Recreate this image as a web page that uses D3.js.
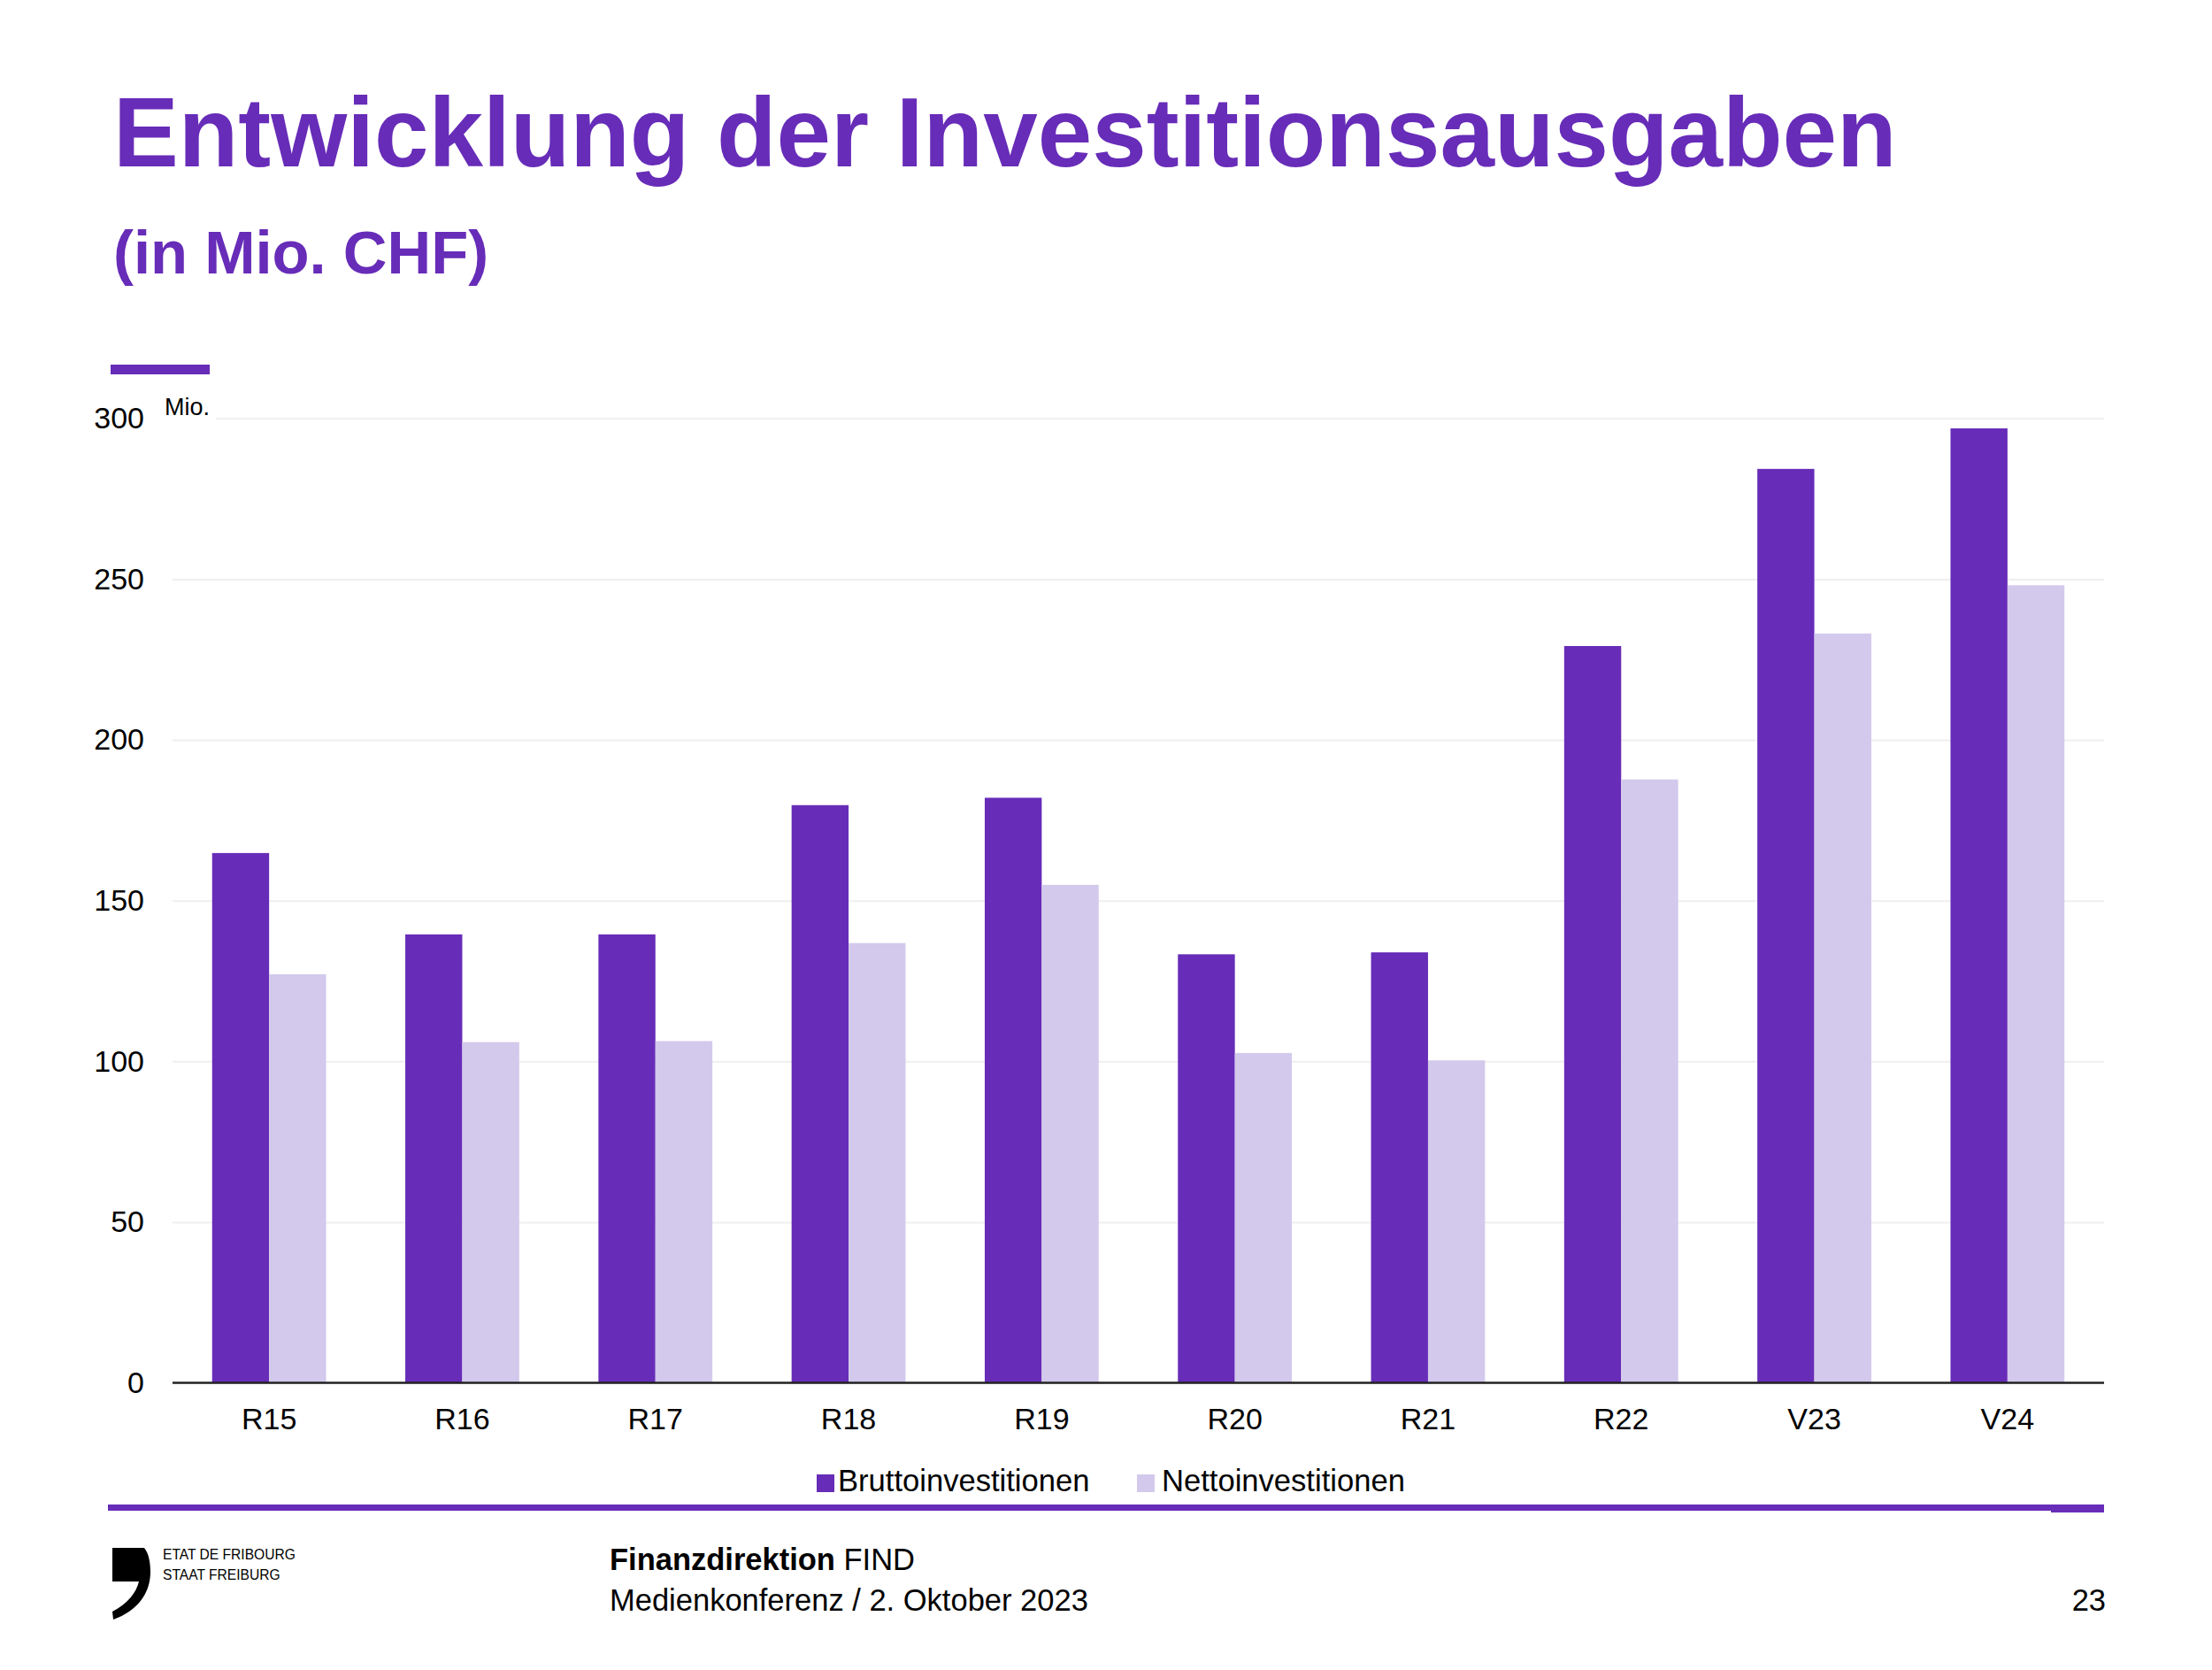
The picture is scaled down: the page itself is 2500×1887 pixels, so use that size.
<!DOCTYPE html>
<html>
<head>
<meta charset="utf-8">
<script src="https://cdn.jsdelivr.net/npm/d3@7"></script>
<style>
  html, body { margin: 0; padding: 0; background: #fff; }
  svg { display: block; font-family: "Liberation Sans", Arial, sans-serif; }
</style>
</head>
<body>
<svg id="chart" width="2500" height="1887"></svg>
<script>
// ---- data ----
const categories = ["R15", "R16", "R17", "R18", "R19", "R20", "R21", "R22", "V23", "V24"];
const seriesNames = ["Bruttoinvestitionen", "Nettoinvestitionen"];
const brutto = [164.8, 139.5, 139.5, 179.7, 182.0, 133.3, 133.9, 229.2, 284.3, 296.9];
const netto  = [127.1, 106.0, 106.3, 136.8, 154.9, 102.6, 100.3, 187.7, 233.1, 248.1];
const yTicks = [0, 50, 100, 150, 200, 250, 300];

const PURPLE = "#672cb8";
const LIGHT = "#d3c9ec";
const colors = [PURPLE, LIGHT];

const svg = d3.select("#chart");
svg.append("rect").attr("width", 2500).attr("height", 1887).attr("fill", "#fff");

// ---- titles ----
svg.append("text").attr("x", 128).attr("y", 188)
  .attr("font-size", 110.6).attr("font-weight", "bold").attr("fill", PURPLE)
  .text("Entwicklung der Investitionsausgaben");
svg.append("text").attr("x", 128).attr("y", 309)
  .attr("font-size", 68.8).attr("font-weight", "bold").attr("fill", PURPLE)
  .text("(in Mio. CHF)");
svg.append("rect").attr("x", 125).attr("y", 412).attr("width", 112).attr("height", 11).attr("fill", PURPLE);

// ---- scales ----
const x0 = d3.scaleBand().domain(categories).range([195, 2378]).paddingInner(0.41).paddingOuter(0.205);
const x1 = d3.scaleBand().domain(seriesNames).range([0, x0.bandwidth()]);
const y = d3.scaleLinear().domain([0, 300]).range([1562.5, 472.8]);

// gridlines
const grid = svg.append("g").attr("transform", "translate(195,0)")
  .call(d3.axisLeft(y).tickValues(yTicks).tickSize(-(2378 - 195)).tickFormat(""));
grid.select(".domain").remove();
grid.selectAll(".tick line").attr("stroke", "#efefef").attr("stroke-width", 2);

// y labels
const yAx = svg.append("g").attr("transform", "translate(163,0)")
  .call(d3.axisLeft(y).tickValues(yTicks).tickSize(0).tickPadding(0));
yAx.select(".domain").remove();
yAx.selectAll("text").attr("font-size", 34).attr("fill", "#000")
  .attr("font-family", "Liberation Sans, Arial, sans-serif");

// "Mio." unit label
svg.append("rect").attr("x", 180).attr("y", 440).attr("width", 64).attr("height", 40).attr("fill", "#fff");
svg.append("text").attr("x", 186).attr("y", 469).attr("font-size", 27).attr("fill", "#000").text("Mio.");

// bars
const groups = svg.append("g").selectAll("g").data(categories).join("g")
  .attr("transform", d => `translate(${x0(d)},0)`);
groups.selectAll("rect").data((d, i) => [
    { s: seriesNames[0], v: brutto[i], c: colors[0] },
    { s: seriesNames[1], v: netto[i], c: colors[1] }
  ]).join("rect")
  .attr("x", d => x1(d.s))
  .attr("width", x1.bandwidth())
  .attr("y", d => y(d.v))
  .attr("height", d => y(0) - y(d.v))
  .attr("fill", d => d.c);

// x axis
const xAx = svg.append("g").attr("transform", `translate(0,${y(0)})`)
  .call(d3.axisBottom(x0).tickSize(0).tickPadding(0));
xAx.select(".domain").attr("stroke", "#222").attr("stroke-width", 2.5)
  .attr("d", `M195,0H2378`);
xAx.selectAll("text").attr("font-size", 34).attr("fill", "#000").attr("dy", 0).attr("y", 52.5)
  .attr("font-family", "Liberation Sans, Arial, sans-serif");

// legend
const legendPos = [{ sx: 923, tx: 947 }, { sx: 1285, tx: 1313 }];
seriesNames.forEach((name, i) => {
  svg.append("rect").attr("x", legendPos[i].sx).attr("y", 1666).attr("width", 20).attr("height", 20).attr("fill", colors[i]);
  svg.append("text").attr("x", legendPos[i].tx).attr("y", 1685).attr("font-size", 34.6).attr("fill", "#000").text(name);
});

// bottom rule
svg.append("rect").attr("x", 122).attr("y", 1700).attr("width", 2378 - 122).attr("height", 7).attr("fill", PURPLE);
svg.append("rect").attr("x", 2318).attr("y", 1706).attr("width", 60).attr("height", 3).attr("fill", PURPLE);

// footer logo
svg.append("path")
  .attr("d", "M127,1749 L163,1749 C168,1755 170,1765 170,1776 C170,1800 156,1820 128,1830 L127,1821 C144,1812 154,1800 157,1787 L127,1787 Z")
  .attr("fill", "#000");
svg.append("text").attr("x", 184).attr("y", 1762).attr("font-size", 15.6).attr("fill", "#000").text("ETAT DE FRIBOURG");
svg.append("text").attr("x", 184).attr("y", 1785).attr("font-size", 15.6).attr("fill", "#000").text("STAAT FREIBURG");

// footer texts
const ft = svg.append("text").attr("x", 689).attr("y", 1774).attr("font-size", 34.5).attr("fill", "#000");
ft.append("tspan").attr("font-weight", "bold").text("Finanzdirektion");
ft.append("tspan").text(" FIND");
svg.append("text").attr("x", 689).attr("y", 1820).attr("font-size", 34.5).attr("fill", "#000").text("Medienkonferenz / 2. Oktober 2023");
svg.append("text").attr("x", 2380).attr("y", 1820).attr("font-size", 34.5).attr("fill", "#000").attr("text-anchor", "end").text("23");
</script>
</body>
</html>
